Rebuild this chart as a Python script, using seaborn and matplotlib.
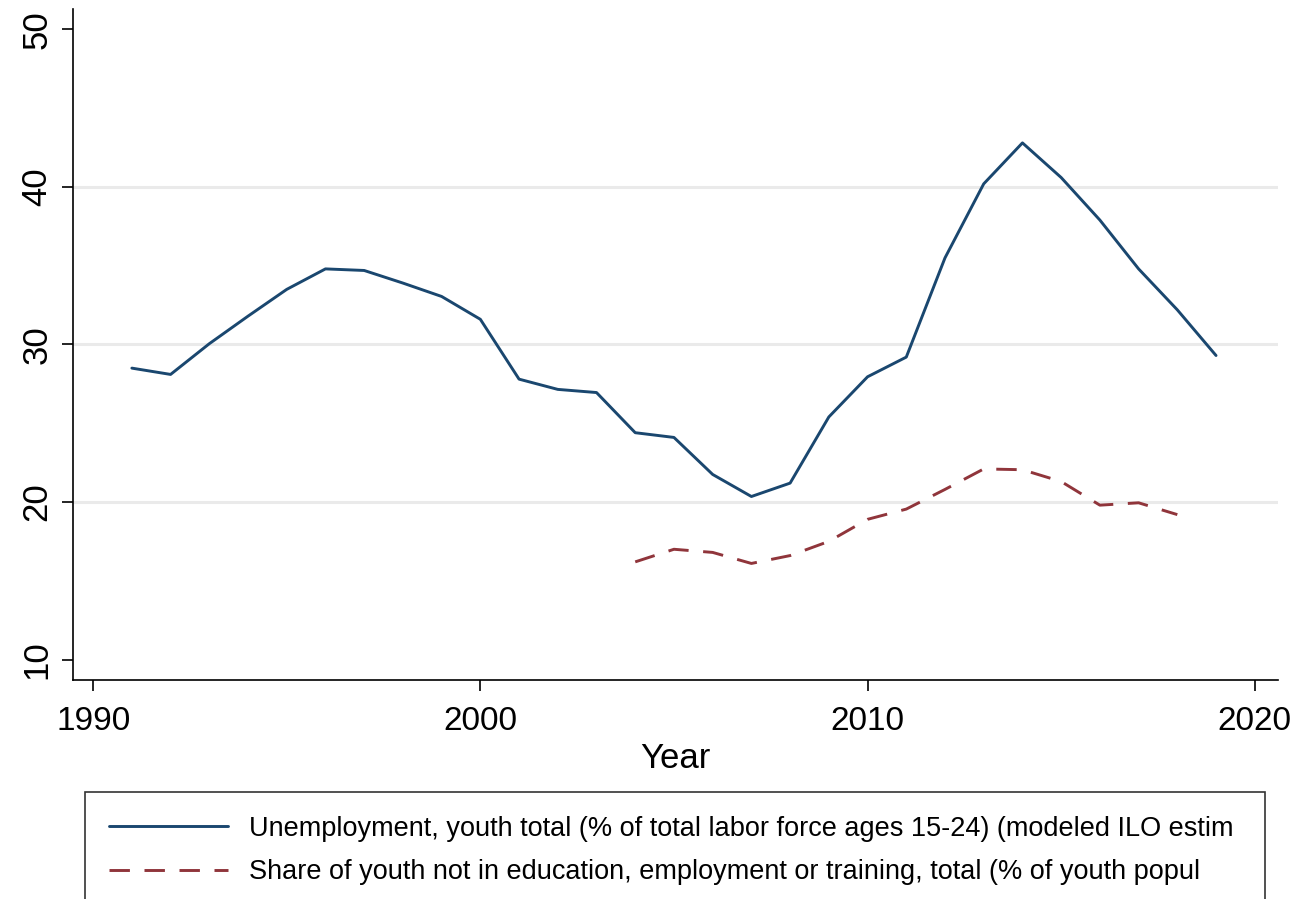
import pandas as pd
import matplotlib
matplotlib.use('Agg')
import matplotlib.pyplot as plt
import seaborn as sns

sns.set_theme(style='white')
plt.rcParams['font.family'] = ['Liberation Sans', 'DejaVu Sans']
plt.rcParams['text.color'] = 'black'
plt.rcParams['xtick.color'] = 'black'
plt.rcParams['ytick.color'] = 'black'
plt.rcParams['axes.labelcolor'] = 'black'

# data
years_unemp = list(range(1991, 2020))
unemp = [28.5, 28.1, 30.05, 31.8, 33.5, 34.8, 34.7, 33.9, 33.05, 31.6,
         27.8, 27.15, 26.95, 24.4, 24.1, 21.75, 20.35, 21.2, 25.4, 27.95,
         29.2, 35.5, 40.2, 42.8, 40.6, 37.9, 34.8, 32.2, 29.3]
years_neet = list(range(2004, 2019))
neet = [16.2, 17.0, 16.8, 16.1, 16.6, 17.5, 18.9, 19.55, 20.8, 22.1,
        22.05, 21.3, 19.8, 19.95, 19.2]

label_unemp = 'Unemployment, youth total (% of total labor force ages 15-24) (modeled ILO estim'
label_neet = 'Share of youth not in education, employment or training, total (% of youth popul'

xticks = [1990, 2000, 2010, 2020]
yticks = [10, 20, 30, 40, 50]

df1 = pd.DataFrame({'Year': years_unemp, 'value': unemp})
df2 = pd.DataFrame({'Year': years_neet, 'value': neet})

blue = '#1a476f'
red = '#90353b'

f = plt.figure(figsize=(12.99, 8.99), dpi=100)
ax = f.add_axes([73 / 1299, 1 - 680 / 899, (1278 - 73) / 1299, (680 - 9) / 899])

sns.lineplot(data=df1, x='Year', y='value', ax=ax, color=blue, lw=2.1,
             label=label_unemp)
sns.lineplot(data=df2, x='Year', y='value', ax=ax, color=red, lw=2.1,
             label=label_neet, dashes=False)
ax.lines[1].set_dashes((7, 5))

ax.set_xlim(1989.48, 2020.6)
ax.set_ylim(8.7, 51.3)
ax.set_xticks(xticks)
ax.set_yticks(yticks)
ax.set_xticklabels([str(t) for t in xticks], fontsize=24)
ax.set_yticklabels([str(t) for t in yticks], fontsize=25, rotation=90,
                   va='center')
ax.set_xlabel('Year', fontsize=25, labelpad=3)
ax.set_ylabel('')

ax.tick_params(axis='both', direction='out', length=8, width=1.2,
               color='black', bottom=True, left=True)
ax.tick_params(axis='x', pad=11)
ax.tick_params(axis='y', pad=6)
for s in ['top', 'right']:
    ax.spines[s].set_visible(False)
for s in ['left', 'bottom']:
    ax.spines[s].set_color('black')
    ax.spines[s].set_linewidth(1.2)

ax.yaxis.grid(True, color='#eaeaea', lw=2.2)
ax.set_axisbelow(True)
gl = ax.get_ygridlines()
gl[0].set_visible(False)
gl[-1].set_visible(False)

ax.get_legend().remove()
h, l = ax.get_legend_handles_labels()
leg = f.legend(h, l, loc='upper left',
               bbox_to_anchor=(85 / 1299, 0.0, 1180 / 1299, 1 - 792 / 899),
               mode='expand', fontsize=19.5, frameon=True, fancybox=False,
               edgecolor='black', handlelength=4.4, handletextpad=0.8,
               borderpad=0.87, labelspacing=0.65, borderaxespad=0)
leg.get_frame().set_linewidth(1.2)

f.savefig('out.png', dpi=100)
